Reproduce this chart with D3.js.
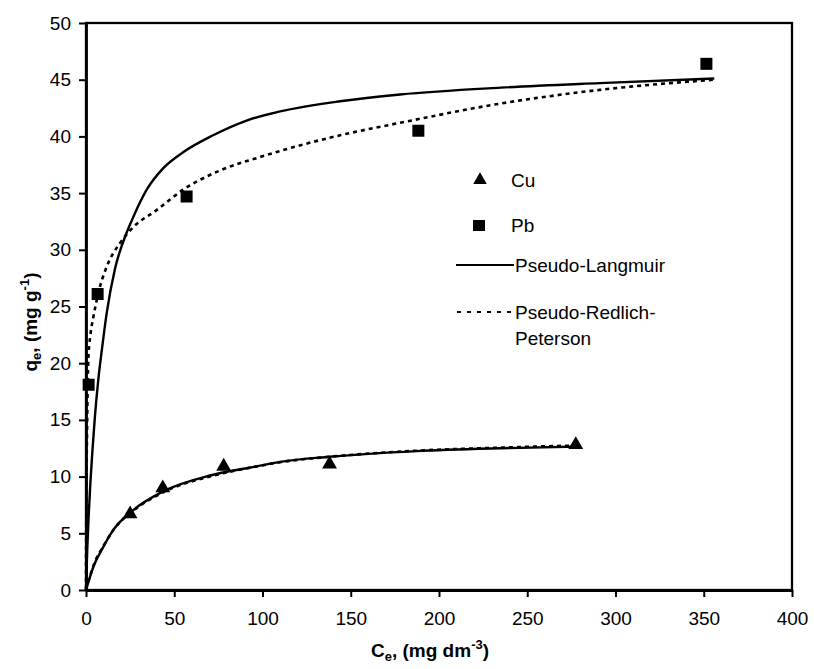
<!DOCTYPE html>
<html>
<head>
<meta charset="utf-8">
<script src="https://cdn.jsdelivr.net/npm/d3@7/dist/d3.min.js"></script>
<style>
  html, body { margin: 0; padding: 0; background: #fff; }
  svg { display: block; font-family: Arial, "Liberation Sans", sans-serif; }
</style>
</head>
<body>
<svg id="chart" width="814" height="669"></svg>
<script>
// ---- data ----
const xTicks = [0, 50, 100, 150, 200, 250, 300, 350, 400];
const yTicks = [0, 5, 10, 15, 20, 25, 30, 35, 40, 45, 50];

// experimental points
const cuC = [25, 43.5, 78, 138, 277.5];
const cuQ = [6.7, 9.0, 10.9, 11.1, 12.8];
const pbC = [1.5, 6.6, 57, 188.3, 351.5];
const pbQ = [18.1, 26.1, 34.7, 40.5, 46.4];

// fitted curves
const pbLangC = [0, 0.7, 1.5, 2.5, 3.7, 5, 7, 9, 11.7, 16.4, 23, 26.8, 34.4, 43.8, 55, 72, 91, 110, 144, 178, 235, 291, 356];
const pbLangQ = [0, 3.5, 6.5, 9.5, 12.4, 15.2, 18.6, 21.2, 24.4, 28.3, 31.5, 32.9, 35.3, 37.2, 38.6, 40.1, 41.4, 42.2, 43.1, 43.7, 44.3, 44.7, 45.1];
const pbRPC = [0, 0.1, 0.3, 0.6, 1.3, 2.5, 4.1, 7, 11.7, 19.3, 26.8, 40, 55, 76, 99, 121, 144, 178, 235, 291, 356];
const pbRPQ = [0, 5, 10, 14, 20.3, 22.5, 24, 26.2, 28.5, 30.6, 32, 33.5, 35.3, 37, 38.2, 39.2, 40.1, 41.2, 42.9, 44.1, 45.0];
const cuLangC = [0, 4.2, 9.8, 15.5, 26.8, 43.8, 70.3, 93, 110, 138, 187, 235, 280];
const cuLangQ = [0, 2.05, 3.8, 5.3, 7.05, 8.7, 10.1, 10.8, 11.3, 11.75, 12.25, 12.5, 12.65];
const cuRPC = [0, 4.2, 9.8, 15.5, 26.8, 43.8, 70.3, 93, 110, 138, 187, 235, 280];
const cuRPQ = [0, 2.15, 3.85, 5.3, 7.0, 8.62, 10.02, 10.78, 11.27, 11.75, 12.28, 12.56, 12.75];

const legendLabels = ["Cu", "Pb", "Pseudo-Langmuir", ["Pseudo-Redlich-", "Peterson"]];

// ---- drawing ----
(function () {
const svg = d3.select("#chart");
const pL = 86, pR = 792, pT = 23, pB = 590;
const x = d3.scaleLinear().domain([0, 400]).range([pL, pR]);
const y = d3.scaleLinear().domain([0, 50]).range([pB, pT]);
const FS = 19;

// frame
svg.append("rect")
  .attr("x", pL).attr("y", pT)
  .attr("width", pR - pL).attr("height", pB - pT)
  .attr("fill", "none").attr("stroke", "#000").attr("stroke-width", 2.3);

// axes
const xAxis = svg.append("g").attr("transform", `translate(0,${pB})`)
  .call(d3.axisBottom(x).tickValues(xTicks).tickSize(7).tickSizeOuter(0).tickPadding(10));
const yAxis = svg.append("g").attr("transform", `translate(${pL},0)`)
  .call(d3.axisLeft(y).tickValues(yTicks).tickSize(7).tickSizeOuter(0).tickPadding(8));
[xAxis, yAxis].forEach(g => {
  g.select(".domain").attr("stroke", "#000").attr("stroke-width", 2.8);
  g.selectAll(".tick line").attr("stroke", "#000").attr("stroke-width", 2);
  g.selectAll(".tick text").attr("font-size", FS).attr("font-family", "Arial, 'Liberation Sans', sans-serif").attr("fill", "#000");
});
xAxis.selectAll(".tick text").attr("dy", "0.95em");

// curves
const line = d3.line().x(d => x(d[0])).y(d => y(d[1])).curve(d3.curveMonotoneX);
function drawCurve(cs, qs, dashed) {
  svg.append("path")
    .datum(cs.map((c, i) => [c, qs[i]]))
    .attr("d", line)
    .attr("fill", "none")
    .attr("stroke", "#000")
    .attr("stroke-width", dashed ? 2.6 : 2.4)
    .attr("stroke-dasharray", dashed ? "4,4" : null);
}
drawCurve(pbRPC, pbRPQ, true);
drawCurve(cuRPC, cuRPQ, true);
drawCurve(pbLangC, pbLangQ, false);
drawCurve(cuLangC, cuLangQ, false);

// markers
const tri = d3.symbol().type(d3.symbolTriangle).size(95);
svg.append("g").selectAll("path")
  .data(cuC.map((c, i) => [c, cuQ[i]]))
  .join("path")
  .attr("d", tri)
  .attr("transform", d => `translate(${x(d[0])},${y(d[1])})`)
  .attr("fill", "#000");
svg.append("g").selectAll("rect")
  .data(pbC.map((c, i) => [c, pbQ[i]]))
  .join("rect")
  .attr("x", d => x(d[0]) - 6).attr("y", d => y(d[1]) - 6)
  .attr("width", 12).attr("height", 12)
  .attr("fill", "#000");

// legend
const lg = svg.append("g").attr("font-size", FS).attr("fill", "#000");
lg.append("path").attr("d", d3.symbol().type(d3.symbolTriangle).size(80))
  .attr("transform", "translate(480,180)").attr("fill", "#000");
lg.append("text").attr("x", 511).attr("y", 187).text(legendLabels[0]);
lg.append("rect").attr("x", 473).attr("y", 220).attr("width", 12).attr("height", 11).attr("fill", "#000");
lg.append("text").attr("x", 511).attr("y", 232).text(legendLabels[1]);
lg.append("line").attr("x1", 456).attr("x2", 514).attr("y1", 265).attr("y2", 265)
  .attr("stroke", "#000").attr("stroke-width", 2.2);
lg.append("text").attr("x", 515).attr("y", 272).text(legendLabels[2]);
lg.append("line").attr("x1", 457).attr("x2", 514).attr("y1", 312).attr("y2", 312)
  .attr("stroke", "#000").attr("stroke-width", 2.2).attr("stroke-dasharray", "4,6");
lg.append("text").attr("x", 515).attr("y", 319).text(legendLabels[3][0]);
lg.append("text").attr("x", 515).attr("y", 345).text(legendLabels[3][1]);

// axis titles
const xt = svg.append("text")
  .attr("x", 430).attr("y", 657)
  .attr("text-anchor", "middle")
  .attr("font-size", FS).attr("font-weight", "bold").attr("fill", "#000");
xt.append("tspan").text("C");
xt.append("tspan").attr("font-size", 13).attr("dy", 4).text("e");
xt.append("tspan").attr("dy", -4).text(", (mg dm");
xt.append("tspan").attr("font-size", 13).attr("dy", -8).text("-3");
xt.append("tspan").attr("dy", 8).text(")");

const yt = svg.append("text")
  .attr("transform", "translate(37,322) rotate(-90)")
  .attr("text-anchor", "middle")
  .attr("font-size", FS).attr("font-weight", "bold").attr("fill", "#000");
yt.append("tspan").text("q");
yt.append("tspan").attr("font-size", 13).attr("dy", 4).text("e");
yt.append("tspan").attr("dy", -4).text(", (mg g");
yt.append("tspan").attr("font-size", 13).attr("dy", -8).text("-1");
yt.append("tspan").attr("dy", 8).text(")");
})();
</script>
</body>
</html>
